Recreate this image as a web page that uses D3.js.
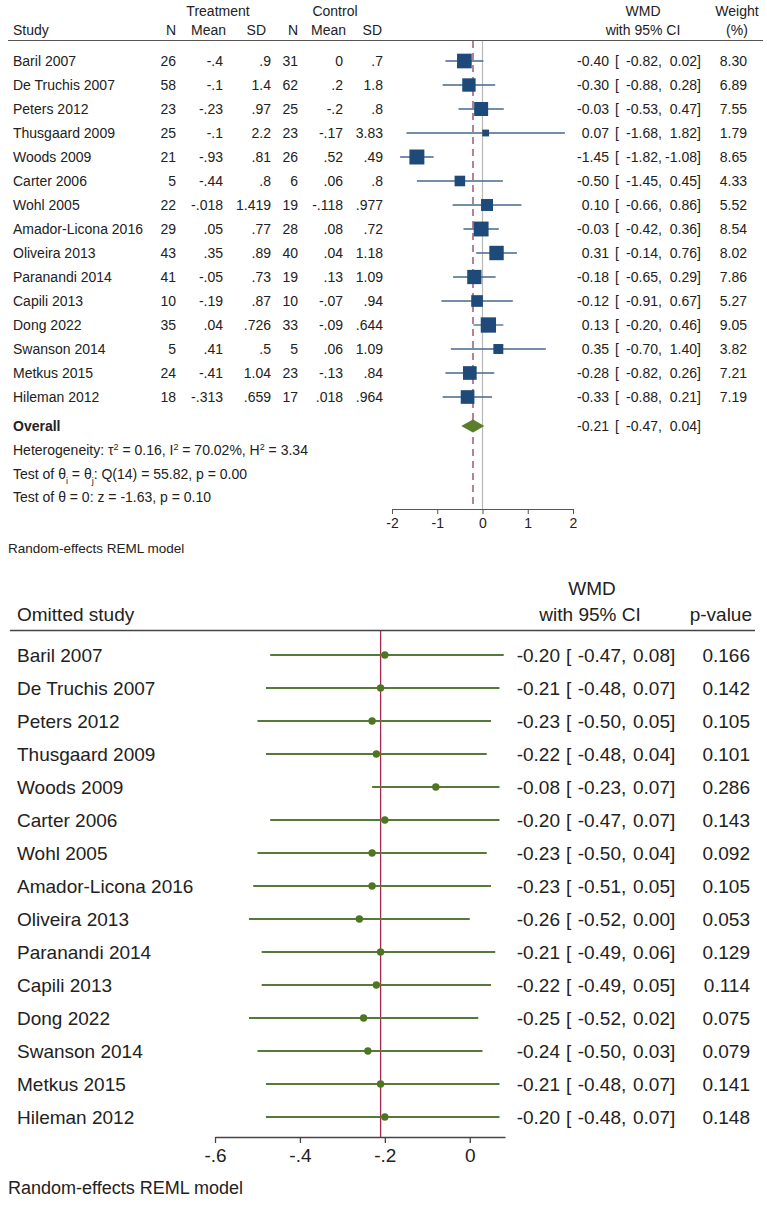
<!DOCTYPE html>
<html><head><meta charset="utf-8">
<script src="https://cdn.jsdelivr.net/npm/d3@7"></script>
<style>body{margin:0;background:#fff}svg{display:block}text{font-family:"Liberation Sans",Arial,sans-serif;fill:#222}</style>
</head><body><svg id="c" width="767" height="1205"></svg>
<script>
// ---------- top panel data ----------
const studies = ["Baril 2007","De Truchis 2007","Peters 2012","Thusgaard 2009","Woods 2009","Carter 2006","Wohl 2005","Amador-Licona 2016","Oliveira 2013","Paranandi 2014","Capili 2013","Dong 2022","Swanson 2014","Metkus 2015","Hileman 2012"];
const tN = ["26","58","23","25","21","5","22","29","43","41","10","35","5","24","18"];
const tMean = ["-.4","-.1","-.23","-.1","-.93","-.44","-.018",".05",".35","-.05","-.19",".04",".41","-.41","-.313"];
const tSD = [".9","1.4",".97","2.2",".81",".8","1.419",".77",".89",".73",".87",".726",".5","1.04",".659"];
const cN = ["31","62","25","23","26","6","19","28","40","19","10","33","5","23","17"];
const cMean = ["0",".2","-.2","-.17",".52",".06","-.118",".08",".04",".13","-.07","-.09",".06","-.13",".018"];
const cSD = [".7","1.8",".8","3.83",".49",".8",".977",".72","1.18","1.09",".94",".644","1.09",".84",".964"];
const wmd = [-0.40,-0.30,-0.03,0.07,-1.45,-0.50,0.10,-0.03,0.31,-0.18,-0.12,0.13,0.35,-0.28,-0.33];
const wmdLo = [-0.82,-0.88,-0.53,-1.68,-1.82,-1.45,-0.66,-0.42,-0.14,-0.65,-0.91,-0.20,-0.70,-0.82,-0.88];
const wmdHi = [0.02,0.28,0.47,1.82,-1.08,0.45,0.86,0.36,0.76,0.29,0.67,0.46,1.40,0.26,0.21];
const weights = [8.30,6.89,7.55,1.79,8.65,4.33,5.52,8.54,8.02,7.86,5.27,9.05,3.82,7.21,7.19];
const overall = {est:-0.21, lo:-0.47, hi:0.04};
const topTicks = [-2,-1,0,1,2];
// ---------- bottom panel data ----------
const looEst = [-0.20,-0.21,-0.23,-0.22,-0.08,-0.20,-0.23,-0.23,-0.26,-0.21,-0.22,-0.25,-0.24,-0.21,-0.20];
const looLo = [-0.47,-0.48,-0.50,-0.48,-0.23,-0.47,-0.50,-0.51,-0.52,-0.49,-0.49,-0.52,-0.50,-0.48,-0.48];
const looHi = [0.08,0.07,0.05,0.04,0.07,0.07,0.04,0.05,0.00,0.06,0.05,0.02,0.03,0.07,0.07];
const looP = ["0.166","0.142","0.105","0.101","0.286","0.143","0.092","0.105","0.053","0.129","0.114","0.075","0.079","0.141","0.148"];
const bottomTicks = [-0.6,-0.4,-0.2,0];

const svg = d3.select("#c");
const f2 = d3.format(".2f");
const fmt2 = v => f2(v).replace("−","-");

// ===== TOP PANEL =====
const T = svg.append("g");
const FS = 14;
const rowY = d3.scalePoint().domain(d3.range(studies.length)).range([61, 397]);
const x1 = d3.scaleLinear().domain([-2,2]).range([392,573]);
const sz = d3.scaleSqrt().domain([0,9.05]).range([0,15.3]);

function txt(g, x, y, s, anchor, size, extra){
  const t = g.append("text").attr("x",x).attr("y",y).attr("dy","0.35em")
    .attr("text-anchor",anchor||"start").style("font-size",(size||FS)+"px").text(s);
  if(extra) extra(t);
  return t;
}
function ciText(g, y, est, lo, hi, size, xs){
  txt(g,xs[0],y,fmt2(est),"end",size);
  txt(g,xs[1],y,"[","start",size);
  txt(g,xs[2],y,fmt2(lo),"end",size);
  txt(g,xs[2],y,",","start",size);
  txt(g,xs[3],y,fmt2(hi),"end",size);
  txt(g,xs[3],y,"]","start",size);
}
// headers
txt(T,218,11,"Treatment","middle");
txt(T,335,11,"Control","middle");
txt(T,13,30,"Study");
[["N",176],["Mean",226],["SD",266],["N",298],["Mean",346],["SD",382]].forEach(([s,x])=>txt(T,x,30,s,"end"));
txt(T,643,11,"WMD","middle");
txt(T,643,30,"with 95% CI","middle");
txt(T,737,11,"Weight","middle");
txt(T,737,30,"(%)","middle");
T.append("line").attr("x1",8).attr("x2",763).attr("y1",40.5).attr("y2",40.5).attr("stroke","#555").attr("stroke-width",1.2);

// reference lines
T.append("line").attr("x1",x1(0)).attr("x2",x1(0)).attr("y1",41).attr("y2",509).attr("stroke","#b8b8b8").attr("stroke-width",1.2);
T.append("line").attr("x1",x1(overall.est)).attr("x2",x1(overall.est)).attr("y1",41).attr("y2",509)
  .attr("stroke","#9c4a6c").attr("stroke-width",1.4).attr("stroke-dasharray","7,5");

// table columns
const cols = [[tN,176],[tMean,223],[tSD,271],[cN,298],[cMean,343],[cSD,383]];
const topCI = [609,615,658,697];
studies.forEach((s,i)=>{
  const y = rowY(i);
  txt(T,13,y,s);
  cols.forEach(([arr,x])=>txt(T,x,y,arr[i],"end"));
  ciText(T,y,wmd[i],wmdLo[i],wmdHi[i],FS,topCI);
  txt(T,747,y,f2(weights[i]),"end");
});
// CI lines & squares
T.selectAll(".ci").data(studies).join("line").attr("class","ci")
  .attr("x1",(d,i)=>x1(wmdLo[i])).attr("x2",(d,i)=>x1(wmdHi[i]))
  .attr("y1",(d,i)=>rowY(i)).attr("y2",(d,i)=>rowY(i))
  .attr("stroke","#44698c").attr("stroke-width",1.3);
T.selectAll(".sq").data(studies).join("rect").attr("class","sq")
  .attr("x",(d,i)=>x1(wmd[i])-sz(weights[i])/2).attr("y",(d,i)=>rowY(i)-sz(weights[i])/2)
  .attr("width",(d,i)=>sz(weights[i])).attr("height",(d,i)=>sz(weights[i]))
  .attr("fill","#1d4a78");
// overall
const oy = 426;
txt(T,13,oy,"Overall","start",FS,t=>t.style("font-weight","bold"));
T.append("path").attr("d",`M${x1(overall.lo)},${oy} L${x1(overall.est)},${oy-6.5} L${x1(overall.hi)},${oy} L${x1(overall.est)},${oy+6.5} Z`).attr("fill","#5a7d2c");
ciText(T,oy,overall.est,overall.lo,overall.hi,FS,topCI);

// heterogeneity
const h = txt(T,13,450,"");
h.append("tspan").text("Heterogeneity: τ");
h.append("tspan").attr("baseline-shift","super").style("font-size","9px").text("2");
h.append("tspan").text(" = 0.16, I");
h.append("tspan").attr("baseline-shift","super").style("font-size","9px").text("2");
h.append("tspan").text(" = 70.02%, H");
h.append("tspan").attr("baseline-shift","super").style("font-size","9px").text("2");
h.append("tspan").text(" = 3.34");
const q = txt(T,13,474,"");
q.append("tspan").text("Test of θ");
q.append("tspan").attr("baseline-shift","sub").style("font-size","9px").text("i");
q.append("tspan").text(" = θ");
q.append("tspan").attr("baseline-shift","sub").style("font-size","9px").text("j");
q.append("tspan").text(": Q(14) = 55.82, p = 0.00");
txt(T,13,497,"Test of θ = 0: z = -1.63, p = 0.10");

// axis
const ax1 = T.append("g").attr("transform","translate(0,509)")
  .call(d3.axisBottom(x1).tickValues(topTicks).tickSize(5).tickSizeOuter(0).tickFormat(d=>d3.format("d")(d).replace("−","-")));
ax1.select(".domain").attr("stroke","#555");
ax1.selectAll(".tick line").attr("stroke","#555");
ax1.selectAll(".tick text").attr("y",9).style("font-size","14px").style("font-family","Liberation Sans, Arial, sans-serif").attr("fill","#222");
txt(T,8,548,"Random-effects REML model","start",13.5);

// ===== BOTTOM PANEL =====
const B = svg.append("g");
const BF = 19;
const rowY2 = d3.scalePoint().domain(d3.range(studies.length)).range([655,1117]);
const x2 = d3.scaleLinear().domain([-0.6,0.083]).range([215,505]);
txt(B,592,588,"WMD","middle",BF);
txt(B,590,614,"with 95% CI","middle",BF);
txt(B,17,614,"Omitted study","start",BF);
txt(B,752,614,"p-value","end",BF);
B.append("line").attr("x1",10).attr("x2",755).attr("y1",630.5).attr("y2",630.5).attr("stroke","#444").attr("stroke-width",1.3);
B.append("line").attr("x1",x2(overall.est)).attr("x2",x2(overall.est)).attr("y1",631).attr("y2",1137)
  .attr("stroke","#a8274c").attr("stroke-width",1.3);

const botCI = [560,566,621,670];
studies.forEach((s,i)=>{
  const y = rowY2(i);
  txt(B,17,y,s,"start",BF);
  ciText(B,y,looEst[i],looLo[i],looHi[i],BF,botCI);
  txt(B,750,y,looP[i],"end",BF);
});
B.selectAll(".ci2").data(studies).join("line").attr("class","ci2")
  .attr("x1",(d,i)=>x2(looLo[i])).attr("x2",(d,i)=>x2(looHi[i]))
  .attr("y1",(d,i)=>rowY2(i)).attr("y2",(d,i)=>rowY2(i))
  .attr("stroke","#56793a").attr("stroke-width",1.8);
B.selectAll(".dot").data(studies).join("circle").attr("class","dot")
  .attr("cx",(d,i)=>x2(looEst[i])).attr("cy",(d,i)=>rowY2(i)).attr("r",3.7)
  .attr("fill","#4d7622");

const ax2 = B.append("g").attr("transform","translate(0,1137)")
  .call(d3.axisBottom(x2).tickValues(bottomTicks).tickSize(6).tickSizeOuter(0)
    .tickFormat(d=> d===0 ? "0" : d3.format(".1f")(d).replace("−","-").replace("0.",".")));
ax2.select(".domain").attr("stroke","#444").attr("stroke-width",1.3);
ax2.selectAll(".tick line").attr("stroke","#444").attr("stroke-width",1.3);
ax2.selectAll(".tick text").attr("y",12).style("font-size","19px").style("font-family","Liberation Sans, Arial, sans-serif").attr("fill","#222");
txt(B,8,1188,"Random-effects REML model","start",18);
</script></body></html>
